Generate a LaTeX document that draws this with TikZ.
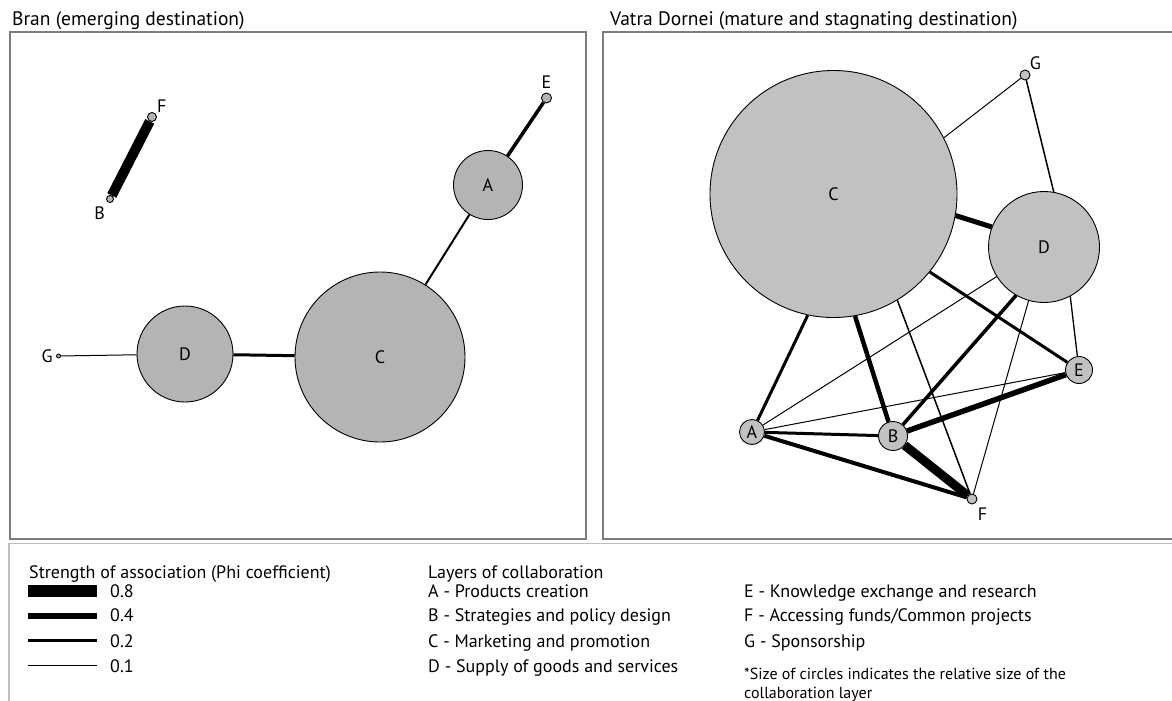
\documentclass[tikz,border=0pt]{standalone}
\usepackage{fontspec}
\setmainfont{PT Sans}
\usetikzlibrary{backgrounds}

\definecolor{brangrey}{RGB}{180,180,180}
\definecolor{vatragrey}{RGB}{193,193,193}
\definecolor{framegrey}{RGB}{125,125,125}
\definecolor{rulegrey}{RGB}{190,190,190}

\begin{document}
\begin{tikzpicture}[x=1pt,y=-1pt,
  every node/.style={font=\fontsize{18}{21}\selectfont},
  layer/.style={draw,circle,line width=0.9pt,inner sep=0pt,minimum size=#1},
  bran/.style={layer=#1,fill=brangrey},
  vatra/.style={layer=#1,fill=vatragrey},
  phi/.style={line width=#1},
  txt/.style={anchor=base west,inner sep=0pt},
  heading/.style={txt,font=\fontsize{19.5}{23}\selectfont},
  note/.style={txt,font=\fontsize{16}{19}\selectfont}]
  \useasboundingbox (0,0) rectangle (1172,701);

  % frames and titles
  \node[heading] (bran-title) at (12,26) {Bran (emerging destination)};
  \node[heading] (vatra-title) at (610,26) {Vatra Dornei (mature and stagnating destination)};
  \draw[framegrey,line width=1.2pt] (10,32) rectangle (586,539);
  \draw[framegrey,line width=1.2pt] (1172,32) -- (603,32) -- (603,539) -- (1172,539);
  \draw[rulegrey,line width=1.5pt] (9,701) -- (9,543.5) -- (1172,543.5);

  % Bran
  \node[bran=69pt] (Br-A) at (488,185) {A};
  \node[bran=170pt] (Br-C) at (380,357) {C};
  \node[bran=96pt] (Br-D) at (185,354) {D};
  \node[bran=10pt,label={[label distance=1pt]above:E}] (Br-E) at (546.5,98) {};
  \node[bran=9pt,label={[label distance=-3pt]40:F}] (Br-F) at (152,117) {};
  \node[bran=7pt,label={[label distance=1pt]-110:B}] (Br-B) at (110,199) {};
  \node[bran=4pt,label={[label distance=0pt]left:G}] (Br-G) at (58.6,356) {};
  \begin{scope}[on background layer]
    \draw[phi=10pt] (Br-B) -- (Br-F);
    \draw[phi=3.5pt] (Br-E) -- (Br-A);
    \draw[phi=2pt] (Br-A) -- (Br-C);
    \draw[phi=3pt] (Br-C) -- (Br-D);
    \draw[phi=1pt] (Br-D) -- (Br-G);
  \end{scope}

  % Vatra Dornei
  \node[vatra=247pt] (Vd-C) at (833.5,194) {C};
  \node[vatra=111pt] (Vd-D) at (1044,247) {D};
  \node[vatra=25pt] (Vd-A) at (752,432) {A};
  \node[vatra=29pt] (Vd-B) at (893,436) {B};
  \node[vatra=27pt] (Vd-E) at (1079,370) {E};
  \node[vatra=10pt,label={[label distance=0pt]-66:F}] (Vd-F) at (972,499) {};
  \node[vatra=10pt,label={[label distance=-3pt]55:G}] (Vd-G) at (1025,75) {};
  \begin{scope}[on background layer]
    \draw[phi=1pt] (Vd-C.27.5) -- (Vd-G);
    \draw[phi=1.5pt] (Vd-D.80) -- (Vd-G);
    \draw[phi=5pt] (Vd-C.-10.6) -- (Vd-D.159);
    \draw[phi=3pt] (Vd-C.-39.3) -- (Vd-E);
    \draw[phi=1pt] (Vd-D.212) -- (Vd-A);
    \draw[phi=3.5pt] (Vd-D.240) -- (Vd-B);
    \draw[phi=1pt] (Vd-D.254) -- (Vd-F);
    \draw[phi=1.3pt] (Vd-D.-62) -- (Vd-E);
    \draw[phi=3pt] (Vd-C.258) -- (Vd-A);
    \draw[phi=4.5pt] (Vd-C.280) -- (Vd-B);
    \draw[phi=1.5pt] (Vd-C.301) -- (Vd-F);
    \draw[phi=1pt] (Vd-A) -- (Vd-E);
    \draw[phi=3pt] (Vd-A) -- (Vd-B);
    \draw[phi=4pt] (Vd-A) -- (Vd-F);
    \draw[phi=5.5pt] (Vd-B) -- (Vd-E);
    \draw[phi=9pt] (Vd-B) -- (Vd-F);
  \end{scope}

  % legend
  \node[txt] (phi-title) at (29,578) {Strength of association (Phi coefficient)};
  \draw[phi=12pt] (28,591) -- (97,591);
  \draw[phi=6pt] (28,615.5) -- (97,615.5);
  \draw[phi=3pt] (28,640.5) -- (97,640.5);
  \draw[phi=1.5pt] (28,665.5) -- (97,665.5);
  \node[txt] (phi-8) at (110,597) {0.8};
  \node[txt] (phi-4) at (110,621.5) {0.4};
  \node[txt] (phi-2) at (110,647) {0.2};
  \node[txt] (phi-1) at (110,672) {0.1};

  \node[txt] (layers-title) at (428,578) {Layers of collaboration};
  \node[txt] (layer-A) at (428,597) {A - Products creation};
  \node[txt] (layer-B) at (428,621.5) {B - Strategies and policy design};
  \node[txt] (layer-C) at (428,647) {C - Marketing and promotion};
  \node[txt] (layer-D) at (428,672) {D - Supply of goods and services};
  \node[txt] (layer-E) at (744,597) {E - Knowledge exchange and research};
  \node[txt] (layer-F) at (744,621.5) {F - Accessing funds/Common projects};
  \node[txt] (layer-G) at (744,647) {G - Sponsorship};
  \node[note] (size-note) at (744,679) {*Size of circles indicates the relative size of the};
  \node[note] (size-note2) at (744,698) {collaboration layer};
\end{tikzpicture}
\end{document}
